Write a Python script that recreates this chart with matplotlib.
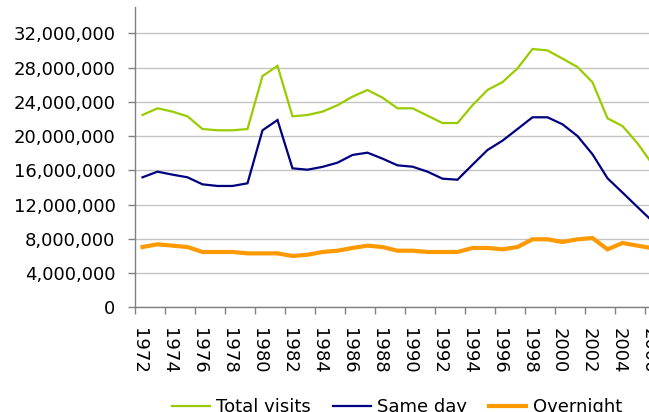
import numpy as np
import matplotlib
matplotlib.use('Agg')
import matplotlib.pyplot as plt
from matplotlib.ticker import FuncFormatter

# Visits per year
years = list(range(1972, 2007))
total_visits = [22.46, 23.24, 22.85, 22.30, 20.82, 20.67, 20.67, 20.82, 27.00, 28.20,
                22.30, 22.46, 22.85, 23.60, 24.60, 25.38, 24.48, 23.24, 23.24, 22.38,
                21.52, 21.52, 23.60, 25.38, 26.30, 27.90, 30.17, 30.00, 29.04, 28.06,
                26.28, 22.07, 21.17, 19.15, 16.70]
same_day = [15.18, 15.84, 15.49, 15.18, 14.36, 14.17, 14.17, 14.48, 20.67, 21.87,
            16.23, 16.07, 16.40, 16.89, 17.79, 18.06, 17.36, 16.58, 16.42, 15.84,
            15.02, 14.90, 16.65, 18.37, 19.46, 20.82, 22.19, 22.19, 21.37, 20.00,
            17.87, 15.07, 13.40, 11.71, 10.04]
overnight = [7.04, 7.36, 7.20, 7.04, 6.46, 6.46, 6.46, 6.30, 6.30, 6.30,
             5.99, 6.14, 6.46, 6.61, 6.93, 7.20, 7.04, 6.61, 6.61, 6.46,
             6.46, 6.46, 6.93, 6.93, 6.77, 7.04, 7.94, 7.94, 7.63, 7.94,
             8.09, 6.77, 7.51, 7.20, 6.90]

series = [
    ('Total visits', total_visits, '#99cc00', 1.6),
    ('Same day', same_day, '#000080', 1.6),
    ('Overnight', overnight, '#ff9900', 3.0),
]

plt.rcParams['font.family'] = 'DejaVu Sans'

fig = plt.figure(figsize=(6.49, 4.12), dpi=100)
# axes runs a little past the right edge, as in the reference
ax = fig.add_axes([135 / 649, 104.7 / 412, 525 / 649, 300.3 / 412])

for name, vals, color, lw in series:
    ax.plot(years, np.array(vals) * 1e6, color=color, lw=lw, label=name,
            solid_joinstyle='miter')

ax.set_xlim(1971.5, 2006.5)
ax.set_ylim(0, 35.07e6)

ax.set_yticks(np.arange(0, 32.1e6, 4e6))
ax.yaxis.set_major_formatter(FuncFormatter(lambda v, p: f'{int(v):,}'))
ax.grid(axis='y', color='#c4c4c4', lw=1.0)
ax.set_axisbelow(True)

# tick marks between category pairs, labels near the categories
label_years = years[::2]
ax.set_xticks(np.arange(1971.5, 2006.6, 2))
ax.set_xticklabels([])
ax.set_xticks([y - 0.25 for y in label_years], minor=True)
ax.set_xticklabels([str(y) for y in label_years], minor=True, rotation=270)
ax.tick_params(axis='x', which='major', length=5, color='#808080', width=1)
ax.tick_params(axis='x', which='minor', length=0, pad=15, labelsize=13)
ax.tick_params(axis='y', length=5, color='#808080', width=1, pad=9, labelsize=13)

for s in ['top', 'right']:
    ax.spines[s].set_visible(False)
for s in ['left', 'bottom']:
    ax.spines[s].set_color('#808080')
    ax.spines[s].set_linewidth(1)

fig.legend(loc='center', bbox_to_anchor=(397 / 649, 5 / 412), ncol=3,
           frameon=False, fontsize=13, handlelength=2.1, columnspacing=1.2,
           handletextpad=0.35)

fig.savefig('out.png', dpi=100)
